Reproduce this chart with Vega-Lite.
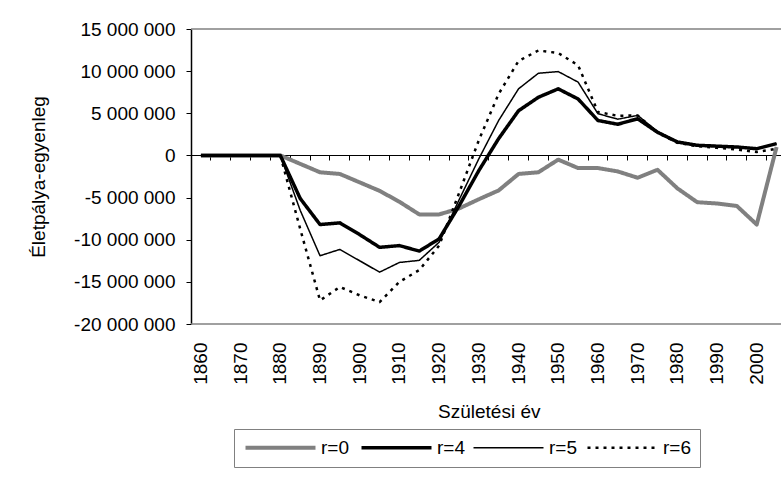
{
  "$schema": "https://vega.github.io/schema/vega-lite/v6.json",
  "width": 590,
  "height": 295,
  "autosize": {"type": "none"},
  "padding": {"left": 191, "top": 29, "right": 0, "bottom": 153},
  "config": {
    "locale": {"number": {"decimal": ",", "thousands": " ", "grouping": [3], "currency": ["", ""], "minus": "-"}},
    "font": "Liberation Sans",
    "view": {"stroke": null},
    "axis": {"grid": false, "labelFont": "Liberation Sans", "titleFont": "Liberation Sans", "labelColor": "#000", "titleColor": "#000", "labelFontSize": 19, "titleFontSize": 19, "titleFontWeight": "normal"},
    "legend": {
      "orient": "none", "legendX": 43, "legendY": 400, "direction": "horizontal",
      "symbolType": "M-1,0L9,0", "symbolSize": 196, "labelFont": "Liberation Sans", "labelFontSize": 19, "labelColor": "#000",
      "labelOffset": 59, "columnPadding": 5, "padding": 9, "strokeColor": "#808080", "fillColor": "#ffffff"
    }
  },
  "datasets": {
    "d": [
      {"year":1860,"series":"r=0","value":0},{"year":1865,"series":"r=0","value":0},{"year":1870,"series":"r=0","value":0},{"year":1875,"series":"r=0","value":0},{"year":1880,"series":"r=0","value":0},
      {"year":1885,"series":"r=0","value":-1000000},{"year":1890,"series":"r=0","value":-2000000},{"year":1895,"series":"r=0","value":-2200000},{"year":1900,"series":"r=0","value":-3200000},{"year":1905,"series":"r=0","value":-4200000},
      {"year":1910,"series":"r=0","value":-5500000},{"year":1915,"series":"r=0","value":-7000000},{"year":1920,"series":"r=0","value":-7000000},{"year":1925,"series":"r=0","value":-6300000},{"year":1930,"series":"r=0","value":-5200000},
      {"year":1935,"series":"r=0","value":-4150000},{"year":1940,"series":"r=0","value":-2200000},{"year":1945,"series":"r=0","value":-2000000},{"year":1950,"series":"r=0","value":-500000},{"year":1955,"series":"r=0","value":-1500000},
      {"year":1960,"series":"r=0","value":-1500000},{"year":1965,"series":"r=0","value":-1900000},{"year":1970,"series":"r=0","value":-2650000},{"year":1975,"series":"r=0","value":-1700000},{"year":1980,"series":"r=0","value":-3900000},
      {"year":1985,"series":"r=0","value":-5550000},{"year":1990,"series":"r=0","value":-5700000},{"year":1995,"series":"r=0","value":-6000000},{"year":2000,"series":"r=0","value":-8200000},{"year":2005,"series":"r=0","value":1000000},

      {"year":1860,"series":"r=4","value":0},{"year":1865,"series":"r=4","value":0},{"year":1870,"series":"r=4","value":0},{"year":1875,"series":"r=4","value":0},{"year":1880,"series":"r=4","value":0},
      {"year":1885,"series":"r=4","value":-5100000},{"year":1890,"series":"r=4","value":-8200000},{"year":1895,"series":"r=4","value":-8000000},{"year":1900,"series":"r=4","value":-9400000},{"year":1905,"series":"r=4","value":-10900000},
      {"year":1910,"series":"r=4","value":-10700000},{"year":1915,"series":"r=4","value":-11350000},{"year":1920,"series":"r=4","value":-9900000},{"year":1925,"series":"r=4","value":-6000000},{"year":1930,"series":"r=4","value":-1800000},
      {"year":1935,"series":"r=4","value":2000000},{"year":1940,"series":"r=4","value":5300000},{"year":1945,"series":"r=4","value":6900000},{"year":1950,"series":"r=4","value":7900000},{"year":1955,"series":"r=4","value":6700000},
      {"year":1960,"series":"r=4","value":4150000},{"year":1965,"series":"r=4","value":3700000},{"year":1970,"series":"r=4","value":4350000},{"year":1975,"series":"r=4","value":2750000},{"year":1980,"series":"r=4","value":1600000},
      {"year":1985,"series":"r=4","value":1200000},{"year":1990,"series":"r=4","value":1100000},{"year":1995,"series":"r=4","value":1000000},{"year":2000,"series":"r=4","value":800000},{"year":2005,"series":"r=4","value":1400000},

      {"year":1860,"series":"r=5","value":0},{"year":1865,"series":"r=5","value":0},{"year":1870,"series":"r=5","value":0},{"year":1875,"series":"r=5","value":0},{"year":1880,"series":"r=5","value":0},
      {"year":1885,"series":"r=5","value":-6500000},{"year":1890,"series":"r=5","value":-11900000},{"year":1895,"series":"r=5","value":-11150000},{"year":1900,"series":"r=5","value":-12500000},{"year":1905,"series":"r=5","value":-13850000},
      {"year":1910,"series":"r=5","value":-12700000},{"year":1915,"series":"r=5","value":-12450000},{"year":1920,"series":"r=5","value":-10300000},{"year":1925,"series":"r=5","value":-5300000},{"year":1930,"series":"r=5","value":-400000},
      {"year":1935,"series":"r=5","value":4150000},{"year":1940,"series":"r=5","value":7900000},{"year":1945,"series":"r=5","value":9750000},{"year":1950,"series":"r=5","value":9950000},{"year":1955,"series":"r=5","value":8700000},
      {"year":1960,"series":"r=5","value":4950000},{"year":1965,"series":"r=5","value":4300000},{"year":1970,"series":"r=5","value":4750000},{"year":1975,"series":"r=5","value":2850000},{"year":1980,"series":"r=5","value":1650000},
      {"year":1985,"series":"r=5","value":1250000},{"year":1990,"series":"r=5","value":1150000},{"year":1995,"series":"r=5","value":1000000},{"year":2000,"series":"r=5","value":850000},{"year":2005,"series":"r=5","value":1400000},

      {"year":1860,"series":"r=6","value":0},{"year":1865,"series":"r=6","value":0},{"year":1870,"series":"r=6","value":0},{"year":1875,"series":"r=6","value":0},{"year":1880,"series":"r=6","value":0},
      {"year":1885,"series":"r=6","value":-8700000},{"year":1890,"series":"r=6","value":-17200000},{"year":1895,"series":"r=6","value":-15600000},{"year":1900,"series":"r=6","value":-16600000},{"year":1905,"series":"r=6","value":-17400000},
      {"year":1910,"series":"r=6","value":-15000000},{"year":1915,"series":"r=6","value":-13600000},{"year":1920,"series":"r=6","value":-10700000},{"year":1925,"series":"r=6","value":-4500000},{"year":1930,"series":"r=6","value":1800000},
      {"year":1935,"series":"r=6","value":7300000},{"year":1940,"series":"r=6","value":11200000},{"year":1945,"series":"r=6","value":12450000},{"year":1950,"series":"r=6","value":12150000},{"year":1955,"series":"r=6","value":10700000},
      {"year":1960,"series":"r=6","value":5150000},{"year":1965,"series":"r=6","value":4700000},{"year":1970,"series":"r=6","value":4750000},{"year":1975,"series":"r=6","value":2700000},{"year":1980,"series":"r=6","value":1500000},
      {"year":1985,"series":"r=6","value":1100000},{"year":1990,"series":"r=6","value":900000},{"year":1995,"series":"r=6","value":700000},{"year":2000,"series":"r=6","value":400000},{"year":2005,"series":"r=6","value":800000}
    ],
    "borders": [{"edge": 15000000}, {"edge": -20000000}]
  },
  "layer": [
    {
      "data": {"name": "borders"},
      "mark": {"type": "rule", "color": "#808080", "strokeWidth": 1.5},
      "encoding": {"y": {"field": "edge", "type": "quantitative"}}
    },
    {
      "data": {"name": "d"},
      "mark": {"type": "line", "strokeJoin": "round"},
      "encoding": {
        "x": {
          "field": "year", "type": "ordinal",
          "scale": {"type": "band", "paddingInner": 0, "paddingOuter": 0, "range": [0, 595.5]},
          "axis": {
            "orient": "bottom", "offset": -169, "domain": true, "domainColor": "#000", "domainWidth": 1, "ticks": true, "tickColor": "#000", "tickSize": 5, "tickWidth": 1, "bandPosition": 0,
            "labelAngle": 270, "labelAlign": "right", "labelBaseline": "middle", "labelPadding": 182, "labelOverlap": false,
            "labelExpr": "datum.value % 10 == 0 ? datum.label : ''",
            "title": "Születési év", "titlePadding": 47
          }
        },
        "y": {
          "field": "value", "type": "quantitative",
          "scale": {"domain": [-20000000, 15000000], "nice": false, "zero": false},
          "axis": {
            "values": [-20000000, -15000000, -10000000, -5000000, 0, 5000000, 10000000, 15000000],
            "format": ",.0f", "domainColor": "#000", "domainWidth": 1.5, "tickColor": "#000", "tickSize": 5, "labelPadding": 11,
            "title": "Életpálya-egyenleg", "titlePadding": 25
          }
        },
        "color": {"field": "series", "type": "nominal", "scale": {"domain": ["r=0", "r=4", "r=5", "r=6"], "range": ["#808080", "#000000", "#000000", "#000000"]}, "legend": {"title": null}},
        "strokeWidth": {"field": "series", "type": "nominal", "scale": {"type": "ordinal", "domain": ["r=0", "r=4", "r=5", "r=6"], "range": [4, 3.5, 1.5, 2.5]}, "legend": {"title": null}},
        "strokeDash": {"field": "series", "type": "nominal", "scale": {"domain": ["r=0", "r=4", "r=5", "r=6"], "range": [[1, 0], [1, 0], [1, 0], [3, 5]]}, "legend": {"title": null}}
      }
    }
  ]
}
